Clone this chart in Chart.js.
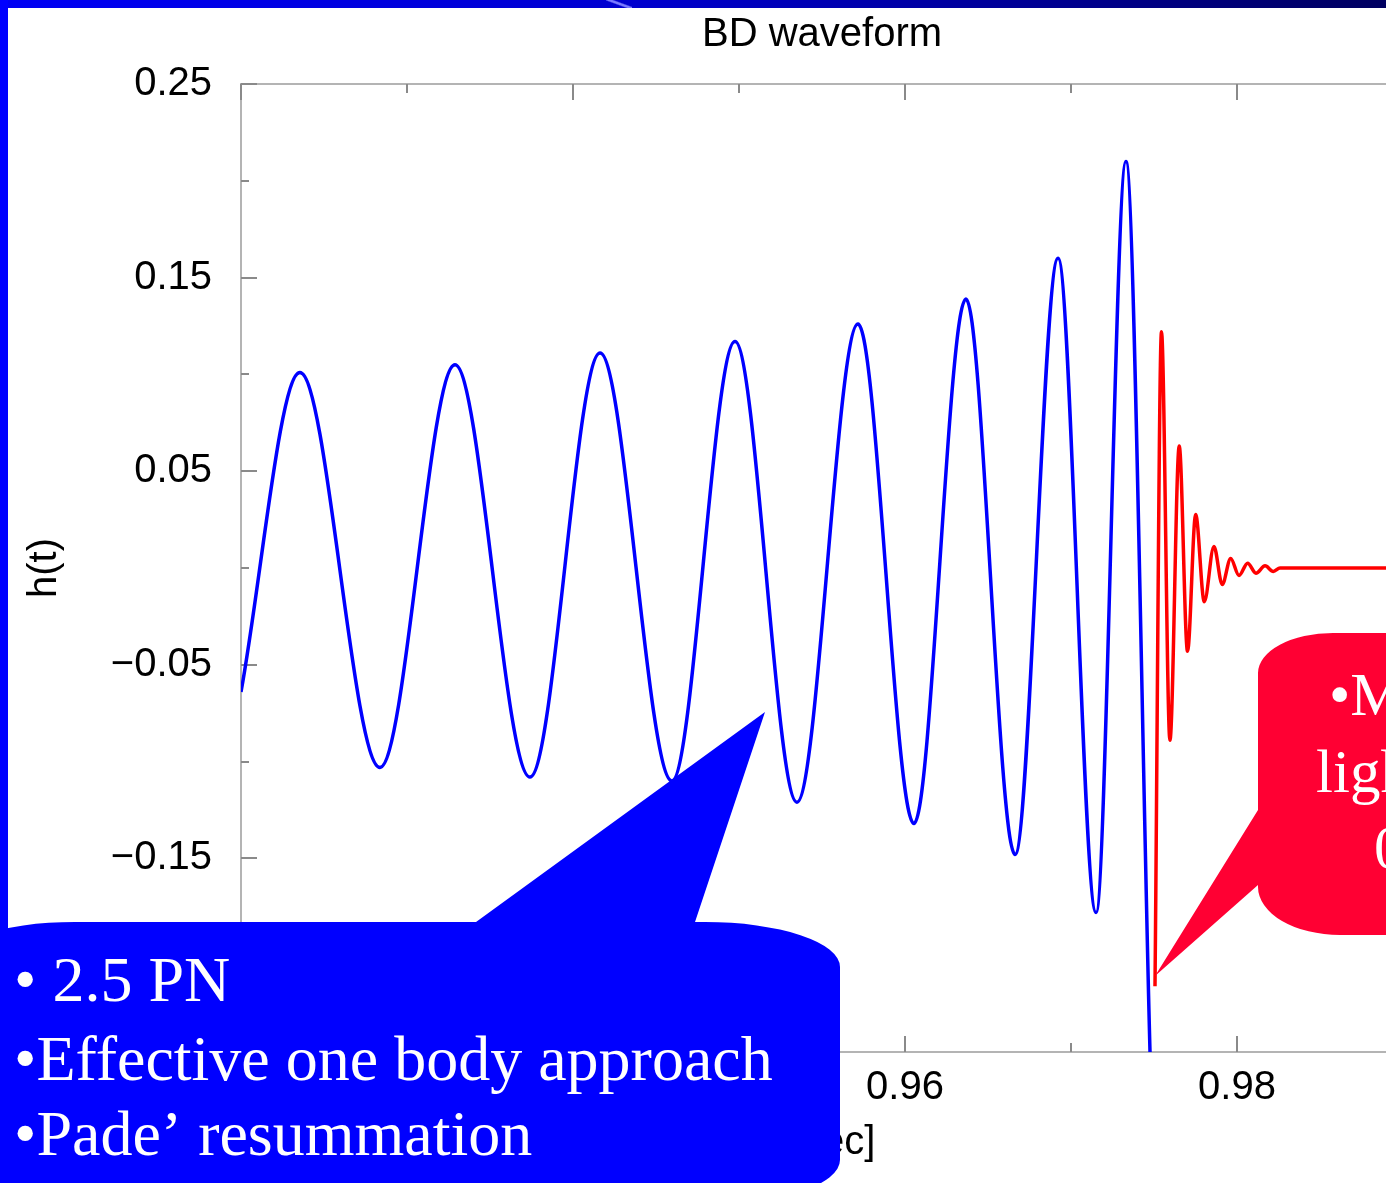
<!DOCTYPE html>
<html>
<head>
<meta charset="utf-8">
<script src="https://cdn.jsdelivr.net/npm/chart.js@4.4.1/dist/chart.umd.min.js"></script>
<style>
  html, body { margin: 0; padding: 0; background: #fff; }
  body { width: 1386px; height: 1183px; overflow: hidden; position: relative; }
  #wave { position: absolute; left: 0; top: 0; }
  .bar-top { position: absolute; left: 0; top: 0; width: 1386px; height: 8px;
    background: linear-gradient(90deg, #0000f4 0%, #0000d0 45%, #000060 100%); z-index: 2; }
  .bar-left { position: absolute; left: 0; top: 0; width: 8px; height: 1183px; background: #0000ff; z-index: 2; }
  .streak { position: absolute; left: 606px; top: 0; width: 26px; height: 8px; z-index: 3;
    background: linear-gradient(20deg, transparent 40%, #7a7aff 48%, #7a7aff 56%, transparent 64%); }
</style>
</head>
<body>
<div class="bar-top"></div>
<div class="streak"></div>
<div class="bar-left"></div>
<canvas id="wave" width="1430" height="1183"></canvas>
<script>
// inspiral (blue) - peaks and troughs
const inspiralT = [0.92000, 0.92355, 0.92837, 0.93289, 0.93741, 0.94163, 0.94596, 0.94976,
                   0.95349, 0.95717, 0.96054, 0.96367, 0.96663, 0.96922, 0.97151, 0.97331, 0.97476];
const inspiralH = [-0.064, 0.101, -0.103, 0.105, -0.108, 0.111, -0.110, 0.117,
                   -0.121, 0.126, -0.132, 0.139, -0.148, 0.160, -0.178, 0.210, -0.250];

// merger / ring-down (red)
const ringT = [0.97506, 0.97545, 0.97596, 0.97652, 0.97702, 0.97751, 0.97803, 0.97861,
               0.97911, 0.97962, 0.98012, 0.98064, 0.98114, 0.98169, 0.98219, 0.98259, 0.99000];
const ringH = [-0.216, 0.122, -0.089, 0.063, -0.043, 0.0276, -0.0174, 0.0111,
               -0.0085, 0.0049, -0.0039, 0.0025, -0.0027, 0.0011, -0.0018, 0.0, 0.0];

const xTickLabels = ['0.92', '0.94', '0.96', '0.98'];
const yTickLabels = ['0.25', '0.15', '0.05', '−0.05', '−0.15', '−0.25'];

const sans = '"Liberation Sans", Arial, Helvetica, sans-serif';
const serif = '"Liberation Serif", "Times New Roman", serif';
Chart.defaults.color = '#000';

// gray box with inward ticks, like the gnuplot frame
const frameTicks = {
  id: 'frameTicks',
  beforeDatasetsDraw(chart) {
    const { ctx, chartArea: a, scales: { x, y } } = chart;
    ctx.save();
    ctx.strokeStyle = '#b4b4b4';
    ctx.lineWidth = 2;
    ctx.strokeRect(a.left, a.top, a.right - a.left, a.bottom - a.top);
    ctx.strokeStyle = '#8a8a8a';
    ctx.beginPath();
    x.ticks.forEach(t => {
      const px = Math.round(x.getPixelForValue(t.value));
      const len = t.label ? 16 : 9;
      ctx.moveTo(px, a.bottom); ctx.lineTo(px, a.bottom - len);
      ctx.moveTo(px, a.top); ctx.lineTo(px, a.top + len);
    });
    y.ticks.forEach(t => {
      const py = Math.round(y.getPixelForValue(t.value));
      const len = t.label ? 16 : 8;
      ctx.moveTo(a.left, py); ctx.lineTo(a.left + len, py);
      ctx.moveTo(a.right, py); ctx.lineTo(a.right - len, py);
    });
    ctx.stroke();
    ctx.restore();
  }
};

// the two speech-bubble callouts of the slide
const callouts = {
  id: 'callouts',
  afterDraw(chart) {
    const ctx = chart.ctx;
    ctx.save();

    // blue bubble, bottom left
    let L = -60, R = 840, T = 922, B = 1205, rx = 135, ry = 45;
    ctx.fillStyle = '#0000ff';
    ctx.beginPath();
    ctx.moveTo(L, T + ry);
    ctx.ellipse(L + rx, T + ry, rx, ry, 0, Math.PI, 1.5 * Math.PI);
    ctx.lineTo(476, T);
    ctx.lineTo(765, 712);
    ctx.lineTo(695, T);
    ctx.lineTo(R - rx, T);
    ctx.ellipse(R - rx, T + ry, rx, ry, 0, 1.5 * Math.PI, 2 * Math.PI);
    ctx.lineTo(R, B - ry);
    ctx.ellipse(R - rx, B - ry, rx, ry, 0, 0, 0.5 * Math.PI);
    ctx.lineTo(L + rx, B);
    ctx.ellipse(L + rx, B - ry, rx, ry, 0, 0.5 * Math.PI, Math.PI);
    ctx.closePath();
    ctx.fill();

    ctx.fillStyle = '#fff';
    ctx.font = '64px ' + serif;
    ctx.textBaseline = 'alphabetic';
    ctx.textAlign = 'left';
    ctx.fillText('• 2.5 PN', 14, 1001);
    ctx.fillText('•Effective one body approach', 14, 1080);
    ctx.fillText('•Pade’ resummation', 14, 1155);

    // red bubble, right
    L = 1258; T = 633; B = 935; R = 1500;
    ctx.fillStyle = '#ff0033';
    ctx.beginPath();
    ctx.moveTo(L + 75, T);
    ctx.lineTo(R, T);
    ctx.lineTo(R, B);
    ctx.lineTo(L + 82, B);
    ctx.ellipse(L + 82, B - 48, 82, 48, 0, 0.5 * Math.PI, Math.PI);
    ctx.lineTo(L, 885);
    ctx.lineTo(1155, 976);
    ctx.lineTo(L, 810);
    ctx.lineTo(L, T + 40);
    ctx.ellipse(L + 75, T + 40, 75, 40, 0, Math.PI, 1.5 * Math.PI);
    ctx.closePath();
    ctx.fill();

    ctx.fillStyle = '#fff';
    ctx.font = '61px ' + serif;
    ctx.fillText('•Merger', 1329, 715);
    ctx.fillText('light ring', 1316, 792);
    ctx.fillText('0.97 sec', 1374, 868);
    ctx.restore();
  }
};

new Chart(document.getElementById('wave'), {
  type: 'line',
  data: {
    datasets: [
      {
        label: 'inspiral',
        data: inspiralT.map((t, i) => ({ x: t, y: inspiralH[i] })),
        borderColor: '#0000ff',
        borderWidth: 3.5,
        pointRadius: 0,
        cubicInterpolationMode: 'monotone',
        fill: false
      },
      {
        label: 'ringdown',
        data: ringT.map((t, i) => ({ x: t, y: ringH[i] })),
        borderColor: '#ff0000',
        borderWidth: 3.5,
        pointRadius: 0,
        cubicInterpolationMode: 'monotone',
        fill: false
      }
    ]
  },
  options: {
    responsive: false,
    animation: false,
    devicePixelRatio: 1,
    layout: { padding: { left: 0, right: 27, top: 0, bottom: 0 } },
    plugins: {
      legend: { display: false },
      tooltip: { enabled: false },
      title: {
        display: true,
        text: 'BD waveform',
        fullSize: false,
        color: '#000',
        font: { family: sans, size: 40, weight: 'normal' },
        padding: { top: 11, bottom: 25 }
      }
    },
    scales: {
      x: {
        type: 'linear',
        min: 0.92,
        max: 0.99,
        grid: { display: false, drawTicks: false },
        border: { display: false },
        ticks: {
          stepSize: 0.01,
          autoSkip: false,
          maxRotation: 0,
          padding: 12,
          font: { family: sans, size: 40 },
          callback: v => {
            const s = v.toFixed(2);
            return xTickLabels.includes(s) ? s : '';
          }
        },
        title: {
          display: true,
          text: 't [sec]',
          font: { family: sans, size: 40 },
          padding: { top: 0, bottom: 16 }
        },
        afterFit: s => { s.height = 131; }
      },
      y: {
        min: -0.25,
        max: 0.25,
        grid: { display: false, drawTicks: false },
        border: { display: false },
        ticks: {
          stepSize: 0.05,
          autoSkip: false,
          padding: 29,
          font: { family: sans, size: 40 },
          callback: v => {
            const s = (v < -1e-9 ? '−' : '') + Math.abs(v).toFixed(2);
            return yTickLabels.includes(s) ? s : '';
          }
        },
        title: {
          display: true,
          text: 'h(t)',
          font: { family: sans, size: 40 },
          padding: { top: 20.5, bottom: 0 }
        },
        afterFit: s => { s.width = 241; }
      }
    }
  },
  plugins: [frameTicks, callouts]
});
</script>
</body>
</html>
